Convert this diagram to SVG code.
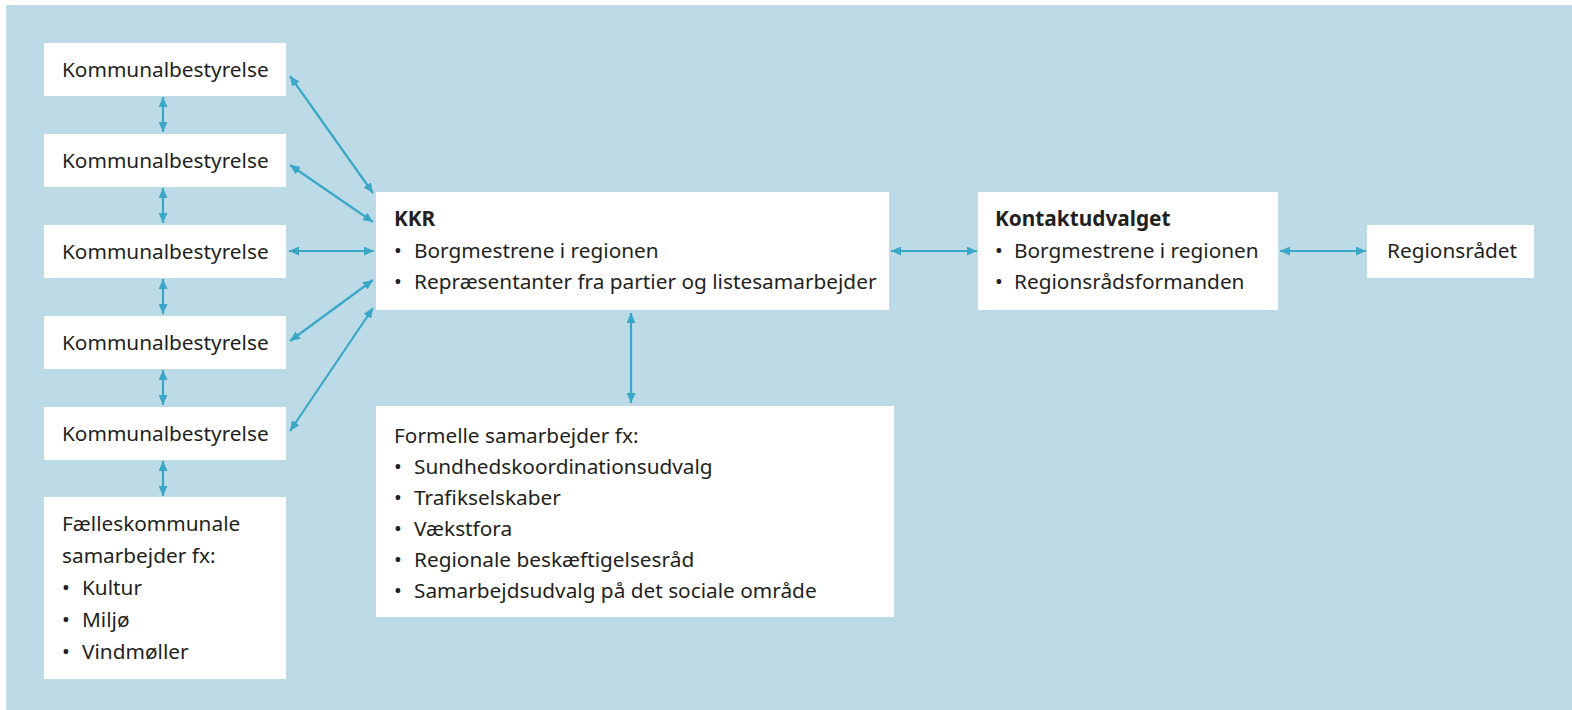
<svg xmlns="http://www.w3.org/2000/svg" width="1572" height="710" viewBox="0 0 1572 710">
<style>
.box{fill:#ffffff}
.t{font-family:"Noto Sans","Liberation Sans",sans-serif;font-size:20.8px;fill:#231f20}
.b{font-weight:bold}
.c{stroke:#3ba7c6;stroke-width:2.2;fill:none;marker-start:url(#ah);marker-end:url(#ah)}
</style>
<defs>
<marker id="ah" viewBox="0 0 10 9" refX="10" refY="4.5" markerWidth="10" markerHeight="9" markerUnits="userSpaceOnUse" orient="auto-start-reverse">
<path d="M0,0 L10,4.5 L0,9 Z" fill="#3ba7c6"/>
</marker>
</defs>
<rect x="6" y="5" width="1566" height="705" fill="#bcdbe7"/>
<g id="kb1"><rect class="box" x="44" y="43" width="242" height="53"/><text class="t" x="62" y="77">Kommunalbestyrelse</text></g>
<g id="kb2"><rect class="box" x="44" y="134" width="242" height="53"/><text class="t" x="62" y="168">Kommunalbestyrelse</text></g>
<g id="kb3"><rect class="box" x="44" y="225" width="242" height="53"/><text class="t" x="62" y="259">Kommunalbestyrelse</text></g>
<g id="kb4"><rect class="box" x="44" y="316" width="242" height="53"/><text class="t" x="62" y="350">Kommunalbestyrelse</text></g>
<g id="kb5"><rect class="box" x="44" y="407" width="242" height="53"/><text class="t" x="62" y="441">Kommunalbestyrelse</text></g>
<g id="faelles"><rect class="box" x="44" y="497" width="242" height="182"/>
<text class="t" x="62" y="531">Fælleskommunale</text>
<text class="t" x="62" y="563">samarbejder fx:</text>
<text class="t" x="62" y="595">•</text><text class="t" x="82" y="595">Kultur</text>
<text class="t" x="62" y="627">•</text><text class="t" x="82" y="627">Miljø</text>
<text class="t" x="62" y="659">•</text><text class="t" x="82" y="659">Vindmøller</text>
</g>
<g id="kkr"><rect class="box" x="376" y="192" width="513" height="118"/>
<text class="t b" x="394" y="226">KKR</text>
<text class="t" x="394" y="258">•</text><text class="t" x="414" y="258">Borgmestrene i regionen</text>
<text class="t" x="394" y="289">•</text><text class="t" x="414" y="289">Repræsentanter fra partier og listesamarbejder</text>
</g>
<g id="kontakt"><rect class="box" x="978" y="192" width="300" height="118"/>
<text class="t b" x="995" y="226">Kontaktudvalget</text>
<text class="t" x="995" y="258">•</text><text class="t" x="1014" y="258">Borgmestrene i regionen</text>
<text class="t" x="995" y="289">•</text><text class="t" x="1014" y="289">Regionsrådsformanden</text>
</g>
<g id="region"><rect class="box" x="1367" y="225" width="167" height="53"/><text class="t" x="1387" y="258">Regionsrådet</text></g>
<g id="formelle"><rect class="box" x="376" y="406" width="518" height="211"/>
<text class="t" x="394" y="443">Formelle samarbejder fx:</text>
<text class="t" x="394" y="474">•</text><text class="t" x="414" y="474">Sundhedskoordinationsudvalg</text>
<text class="t" x="394" y="505">•</text><text class="t" x="414" y="505">Trafikselskaber</text>
<text class="t" x="394" y="536">•</text><text class="t" x="414" y="536">Vækstfora</text>
<text class="t" x="394" y="567">•</text><text class="t" x="414" y="567">Regionale beskæftigelsesråd</text>
<text class="t" x="394" y="598">•</text><text class="t" x="414" y="598">Samarbejdsudvalg på det sociale område</text>
</g>
<g id="connectors">
<line class="c" x1="163" y1="97" x2="163" y2="132"/>
<line class="c" x1="163" y1="188" x2="163" y2="223"/>
<line class="c" x1="163" y1="279" x2="163" y2="314"/>
<line class="c" x1="163" y1="370" x2="163" y2="405"/>
<line class="c" x1="163" y1="461" x2="163" y2="496"/>
<line class="c" x1="290" y1="76" x2="373" y2="193"/>
<line class="c" x1="290" y1="165" x2="373" y2="222"/>
<line class="c" x1="289" y1="251" x2="374" y2="251"/>
<line class="c" x1="290" y1="341" x2="373" y2="280"/>
<line class="c" x1="290" y1="431" x2="373" y2="308"/>
<line class="c" x1="891" y1="251" x2="977" y2="251"/>
<line class="c" x1="1280" y1="251" x2="1366" y2="251"/>
<line class="c" x1="631" y1="313" x2="631" y2="403"/>
</g>
</svg>
